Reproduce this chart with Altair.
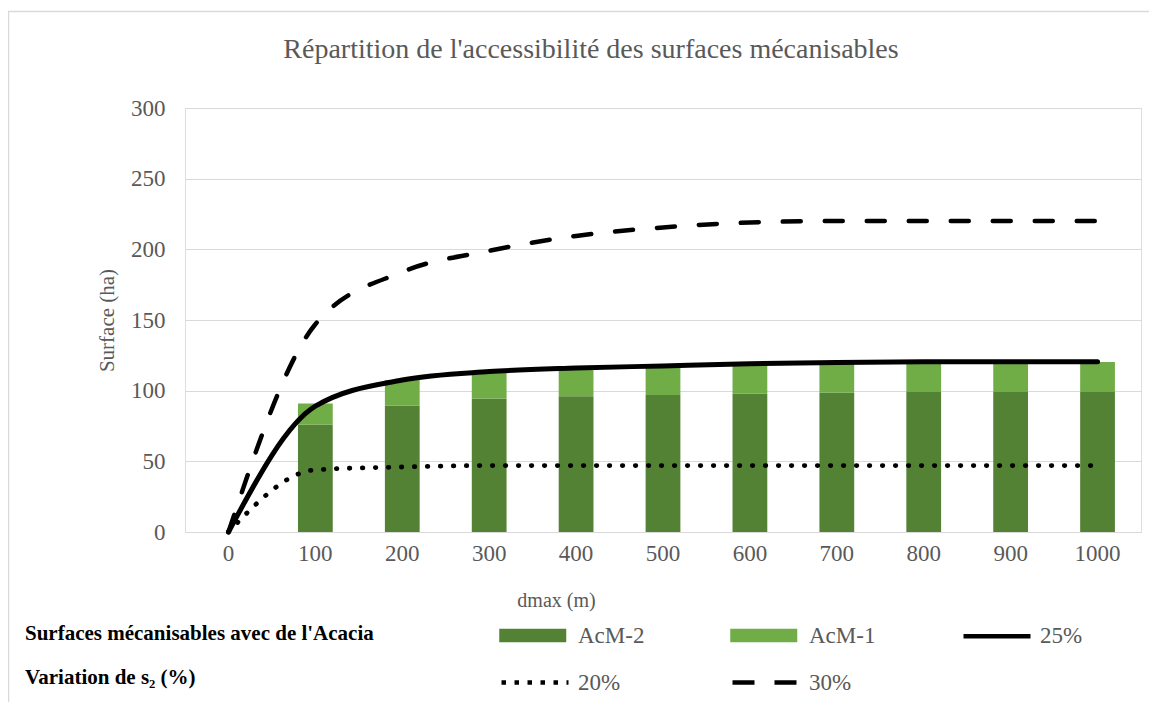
import altair as alt
import pandas as pd

# ---- data ----
dmax = [0, 100, 200, 300, 400, 500, 600, 700, 800, 900, 1000]
acm2 = [0, 76, 89.5, 94.5, 96, 97, 98, 98.5, 99, 99, 99]
acm_total = [0, 91, 107.5, 113, 115.5, 117, 118.5, 119.5, 120, 120, 120.3]
acm1 = [round(t - b, 2) for t, b in zip(acm_total, acm2)]
s25 = [0, 89, 107.5, 113.5, 116, 117.5, 119, 120, 120.5, 120.5, 120.5]
s20 = [0, 44, 46, 47, 47, 47, 47, 47, 47, 47, 47]
s30 = [0, 147, 184, 199, 209.5, 215.5, 219, 220, 220, 220, 220]

series_order = ["AcM-2", "AcM-1", "25%", "20%", "30%"]
series_colors = ["#548235", "#70AD47", "#000000", "#000000", "#000000"]

FONT = "Liberation Serif"
GREY = "#595959"

bars = pd.DataFrame(
    [{"dmax": d, "value": v, "serie": "AcM-2", "rank": 0} for d, v in zip(dmax, acm2)]
    + [{"dmax": d, "value": v, "serie": "AcM-1", "rank": 1} for d, v in zip(dmax, acm1)]
)
lines = pd.DataFrame(
    [{"dmax": d, "value": v, "serie": "25%"} for d, v in zip(dmax, s25)]
    + [{"dmax": d, "value": v, "serie": "20%"} for d, v in zip(dmax, s20)]
    + [{"dmax": d, "value": v, "serie": "30%"} for d, v in zip(dmax, s30)]
)

xenc = alt.X(
    "dmax:O",
    scale=alt.Scale(paddingInner=0.6, paddingOuter=0.3),
    axis=alt.Axis(
        title="dmax (m)", labelAngle=0, labelPadding=10, ticks=False,
        domain=True, domainColor="#D9D9D9", domainWidth=1,
        labelFont=FONT, labelFontSize=23, labelColor=GREY,
        titleFont=FONT, titleFontSize=20, titleColor=GREY, titleFontWeight="normal",
        titleX=371, titleY=68, titleBaseline="middle", titleAlign="center",
    ),
)
yscale = alt.Scale(domain=[0, 300])
yaxis = alt.Axis(
    title="Surface (ha)", values=[0, 50, 100, 150, 200, 250, 300],
    grid=True, gridColor="#D9D9D9", gridWidth=1, domain=False, ticks=False,
    labelPadding=20, labelFont=FONT, labelFontSize=23, labelColor=GREY,
    titleFont=FONT, titleFontSize=21, titleColor=GREY, titleFontWeight="normal",
    titleX=-78, titleY=212, titleAngle=270, titleBaseline="middle", titleAlign="center",
)

is_rect = "(datum.value == 'AcM-2' || datum.value == 'AcM-1')"
legend = alt.Legend(
    title=["Surfaces mécanisables avec de l'Acacia", "Variation de s₂ (%)"],
    titleOrient="left", titleFont=FONT, titleFontSize=21, titleFontWeight="bold",
    titleColor="black", titleLineHeight=44, titlePadding=125, titleLimit=600,
    titleBaseline="top", titleAnchor="start",
    orient="none", direction="horizontal", legendX=-160, legendY=515, columns=3,
    columnPadding=78, rowPadding=21, symbolSize=400, labelOffset=54, labelFont=FONT,
    labelFontSize=23, labelColor=GREY, labelLimit=300,
    symbolType=alt.ExprRef(is_rect + " ? 'M-1,-0.45H5.25V0.45H-1Z' : 'M-1,0H5.7'"),
    symbolFillColor=alt.ExprRef("datum.value == 'AcM-2' ? '#548235' : datum.value == 'AcM-1' ? '#70AD47' : 'transparent'"),
    symbolStrokeColor=alt.ExprRef(is_rect + " ? 'transparent' : 'black'"),
    symbolStrokeWidth=4.5,
    symbolDash=alt.ExprRef("datum.value == '20%' ? [4.5, 8.5] : datum.value == '30%' ? [22, 20] : null"),
    symbolOpacity=1,
)
color = alt.Color(
    "serie:N",
    scale=alt.Scale(domain=series_order, range=series_colors),
    legend=legend,
)

border = alt.Chart(pd.DataFrame({"b": [0]})).mark_rect(
    fill="transparent", stroke="#D9D9D9", strokeWidth=1.5
).encode(
    x=alt.value(-176.5), x2=alt.value(1400), y=alt.value(-96.5), y2=alt.value(1000)
)

bar_layer = alt.Chart(bars).mark_bar().encode(
    x=xenc,
    y=alt.Y("value:Q", scale=yscale, axis=yaxis, stack="zero"),
    color=color,
    order=alt.Order("rank:Q"),
)

def line_layer(name, dash, width=4.5):
    kw = dict(strokeWidth=width, strokeCap="round", strokeJoin="round", interpolate="monotone")
    if dash:
        kw["strokeDash"] = dash
    return alt.Chart(lines).transform_filter(
        alt.datum.serie == name
    ).mark_line(**kw).encode(
        x=xenc,
        y=alt.Y("value:Q", scale=yscale, axis=yaxis),
        color=color,
    )

chart = alt.layer(
    border,
    bar_layer,
    line_layer("20%", [0.5, 12.5], 4.8),
    line_layer("30%", [18, 24]),
    line_layer("25%", None, 5),
).properties(
    width=956,
    height=424,
    autosize=alt.AutoSizeParams(type="none"),
    padding={"left": 177, "top": 100, "right": 8, "bottom": 170},
    title=alt.TitleParams(
        "Répartition de l'accessibilité des surfaces mécanisables",
        font=FONT, fontSize=28, fontWeight="normal", color=GREY,
        anchor="middle", frame="group", dx=-72, offset=-53,
    ),
).configure_view(stroke=None).configure(background="white")

chart.save("out.html", embed_options={"renderer": "svg", "actions": False})
